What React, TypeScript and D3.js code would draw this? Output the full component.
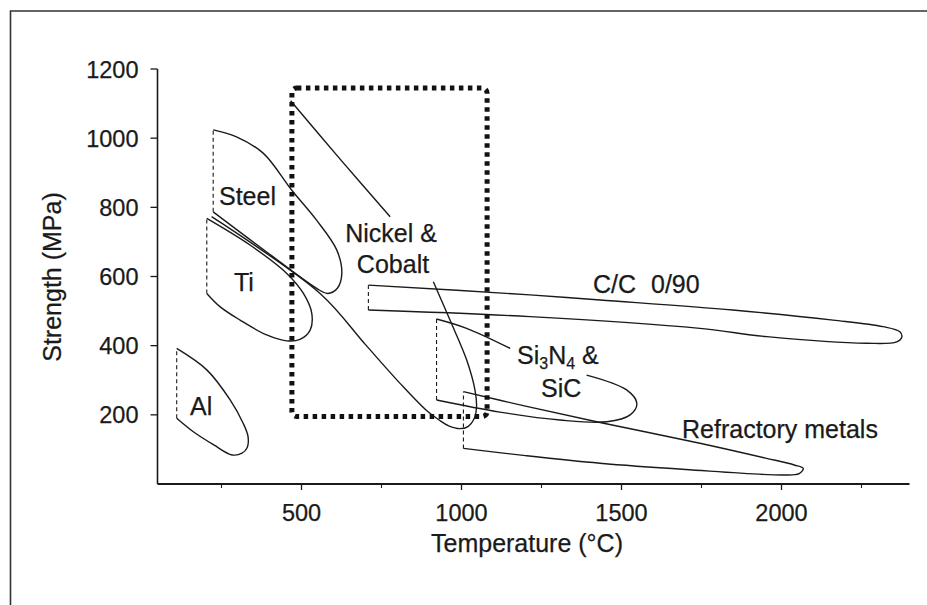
import React from "react";
import * as d3 from "d3";

type Pt = [number, number];

// Axis ticks
const yTicks = [200, 400, 600, 800, 1000, 1200];
const xMajorTicks = [500, 1000, 1500, 2000];
const xMinorTicks = [250, 750, 1250, 1750, 2250];

// Material envelopes: [temperature °C, strength MPa]
const alOutline: Pt[] = [[110, 392], [204, 330], [277, 243], [318, 175], [333, 137], [330, 105], [314, 89], [283, 84], [226, 113], [162, 151], [110, 190]];
const alEdge: Pt[] = [[110, 190], [110, 392]];

const steelOutline: Pt[] = [[224, 1024], [297, 1004], [381, 956], [469, 850], [547, 763], [610, 677], [626, 609], [612, 566], [582, 551], [552, 563], [391, 671], [224, 787]];
const steelEdge: Pt[] = [[224, 787], [224, 1024]];

const tiOutline: Pt[] = [[204, 768], [339, 691], [454, 609], [506, 551], [532, 494], [527, 445], [495, 418], [454, 414], [391, 431], [308, 474], [245, 513], [204, 551]];
const tiEdge: Pt[] = [[204, 551], [204, 768]];

const nickelUpper: Pt[] = [[466, 1108], [620, 940], [777, 773]];
const nickelLower: Pt[] = [[912, 585], [964, 474], [1016, 359], [1042, 272], [1047, 224], [1040, 190], [1020, 166], [995, 160], [960, 168], [930, 185], [889, 214], [808, 291], [700, 403], [558, 551], [219, 773]];

const ccOutline: Pt[] = [[709, 575], [1214, 547], [1433, 532], [1848, 503], [2161, 474], [2317, 455], [2370, 440], [2376, 425], [2360, 411], [2266, 407], [1954, 426], [1745, 450], [1214, 484], [709, 503]];
const ccEdge: Pt[] = [[709, 503], [709, 575]];

const siUpper: Pt[] = [[922, 477], [1016, 450], [1152, 392]];
const siLower: Pt[] = [[1391, 315], [1516, 272], [1548, 233], [1527, 200], [1454, 180], [1308, 185], [1120, 208], [922, 243]];
const siEdge: Pt[] = [[922, 243], [922, 477]];

const refOutline: Pt[] = [[1006, 267], [1200, 225], [1433, 178], [1745, 118], [1950, 75], [2040, 55], [2068, 45], [2055, 30], [2005, 26], [1700, 42], [1433, 60], [1200, 82], [1006, 103]];
const refEdge: Pt[] = [[1006, 103], [1006, 267]];

// Highlighted operating window
const windowTemps = [470, 1080];
const windowStrengths = [195, 1145];

const W = 927;
const H = 605;
const FONT = "'Liberation Sans', Arial, Helvetica, sans-serif";
const INK = "#1a1a1a";

const x = d3.scaleLinear().domain([50, 2400]).range([157.5, 909.5]);
const y = d3.scaleLinear().domain([0, 1200]).range([484, 69]);

const smooth = d3
  .line<Pt>()
  .x((d) => x(d[0]))
  .y((d) => y(d[1]))
  .curve(d3.curveCatmullRom.alpha(0.5));

const straight = d3
  .line<Pt>()
  .x((d) => x(d[0]))
  .y((d) => y(d[1]));

function Curve({ pts }: { pts: Pt[] }) {
  return <path d={smooth(pts) || ""} fill="none" stroke={INK} strokeWidth={1.4} />;
}

function Dashed({ pts }: { pts: Pt[] }) {
  return <path d={straight(pts) || ""} fill="none" stroke={INK} strokeWidth={1.1} strokeDasharray="4 3" />;
}

function Label({ px, py, children, size = 25, anchor = "start" }: { px: number; py: number; children: React.ReactNode; size?: number; anchor?: string }) {
  return (
    <text x={px} y={py} fontFamily={FONT} fontSize={size} fill={INK} stroke={INK} strokeWidth={0.25} textAnchor={anchor as any}>
      {children}
    </text>
  );
}

export default function App() {
  const bx0 = x(windowTemps[0]);
  const bx1 = x(windowTemps[1]);
  const by0 = y(windowStrengths[1]);
  const by1 = y(windowStrengths[0]);

  return (
    <div style={{ position: "fixed", left: 0, top: 0, width: W, height: H, background: "#fff" }}>
      <svg width={W} height={H} viewBox={`0 0 ${W} ${H}`} style={{ display: "block" }}>
        <rect width={W} height={H} fill="#fff" />
        {/* outer frame */}
        <path d={`M10.5,${H} V11 H${W}`} fill="none" stroke="#333" strokeWidth={1.6} />

        {/* axes */}
        <line x1={x(50)} x2={x(50)} y1={y(0)} y2={y(1200)} stroke={INK} strokeWidth={1.6} />
        <line x1={x(50)} x2={x(2400)} y1={y(0)} y2={y(0)} stroke={INK} strokeWidth={1.8} />
        {yTicks.map((t) => (
          <g key={"y" + t}>
            <line x1={x(50) - 7} x2={x(50)} y1={y(t)} y2={y(t)} stroke={INK} strokeWidth={1.3} />
            <Label px={x(50) - 19} py={y(t) + 8.5} size={23.5} anchor="end">
              {t}
            </Label>
          </g>
        ))}
        {xMajorTicks.map((t) => (
          <g key={"x" + t}>
            <line x1={x(t)} x2={x(t)} y1={y(0)} y2={y(0) + 6} stroke={INK} strokeWidth={1.3} />
            <Label px={x(t)} py={521} size={23.5} anchor="middle">
              {t}
            </Label>
          </g>
        ))}
        {xMinorTicks.map((t) => (
          <line key={"m" + t} x1={x(t)} x2={x(t)} y1={y(0)} y2={y(0) + 4} stroke={INK} strokeWidth={1.1} />
        ))}
        <Label px={527} py={552} size={25} anchor="middle">
          Temperature (°C)
        </Label>
        <text
          transform={`translate(61,277) rotate(-90)`}
          fontFamily={FONT}
          fontSize={25}
          fill={INK}
          stroke={INK}
          strokeWidth={0.25}
          textAnchor="middle"
        >
          Strength (MPa)
        </text>

        {/* envelopes */}
        <Curve pts={alOutline} />
        <Dashed pts={alEdge} />
        <Curve pts={steelOutline} />
        <Dashed pts={steelEdge} />
        <Curve pts={tiOutline} />
        <Dashed pts={tiEdge} />
        <Curve pts={nickelUpper} />
        <Curve pts={nickelLower} />
        <Curve pts={ccOutline} />
        <Dashed pts={ccEdge} />
        <Curve pts={siUpper} />
        <Curve pts={siLower} />
        <Dashed pts={siEdge} />
        <Curve pts={refOutline} />
        <Dashed pts={refEdge} />

        {/* operating window */}
        <rect
          x={bx0}
          y={by0}
          width={bx1 - bx0}
          height={by1 - by0}
          rx={5}
          fill="none"
          stroke="#111"
          strokeWidth={5}
          strokeDasharray="4.5 4.5"
        />

        {/* labels */}
        <Label px={219} py={205}>Steel</Label>
        <Label px={234} py={291}>Ti</Label>
        <Label px={190} py={415}>Al</Label>
        <Label px={391} py={242} anchor="middle">Nickel &amp;</Label>
        <Label px={393} py={273} anchor="middle">Cobalt</Label>
        <Label px={593} py={293}>C/C</Label>
        <Label px={651} py={293}>0/90</Label>
        <text x={517} y={364} fontFamily={FONT} fontSize={25} fill={INK} stroke={INK} strokeWidth={0.25}>
          Si
          <tspan fontSize={16} dy={5}>3</tspan>
          <tspan dy={-5}>N</tspan>
          <tspan fontSize={16} dy={5}>4</tspan>
          <tspan dy={-5}> &amp;</tspan>
        </text>
        <Label px={541} py={397}>SiC</Label>
        <Label px={682} py={438}>Refractory metals</Label>
      </svg>
    </div>
  );
}
